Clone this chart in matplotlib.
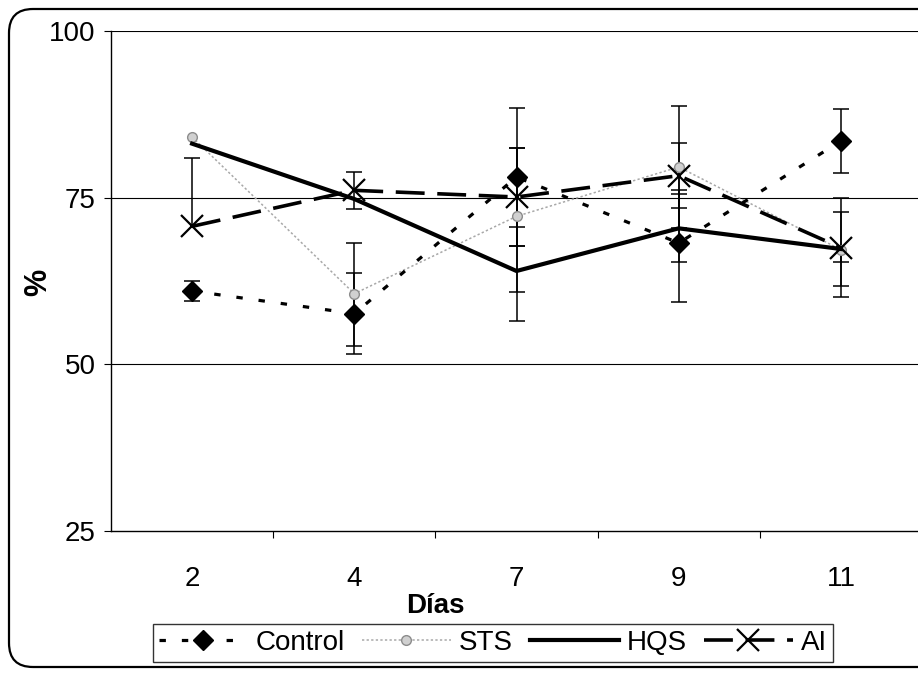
import matplotlib
matplotlib.use("Agg")
import matplotlib.pyplot as plt
from matplotlib.patches import FancyBboxPatch
from matplotlib.lines import Line2D
import numpy as np

plt.rcParams["font.family"] = ["Liberation Sans", "DejaVu Sans"]

# Sampling days (categorical axis)
dias = ["2", "4", "7", "9", "11"]

# Series means (%)
control = [61.0, 57.6, 78.1, 68.2, 83.5]
sts = [84.1, 60.6, 72.2, 79.6, 67.2]
hqs = [83.1, 74.8, 64.0, 70.4, 67.3]
ai = [70.7, 76.1, 75.1, 78.3, 67.5]

# Error bars: (lower, upper); 0 means no bar drawn
control_err_lo = [1.5, 6.1, 10.3, 8.9, 4.8]
control_err_hi = [1.5, 6.1, 10.4, 8.0, 4.8]
sts_err_lo = [0.0, 7.8, 11.4, 9.2, 1.8]
sts_err_hi = [0.0, 7.6, 10.3, 9.2, 0.0]
hqs_err_lo = [0.0, 0.0, 7.5, 5.1, 5.5]
hqs_err_hi = [0.0, 0.0, 6.6, 5.1, 5.5]
ai_err_lo = [0.0, 2.8, 7.4, 4.9, 7.4]
ai_err_hi = [10.3, 2.8, 7.4, 4.9, 7.4]

yticks = [25, 50, 75, 100]

W, H = 918, 675
FS = 20
fig = plt.figure(figsize=(W / 100, H / 100), dpi=100)

# Rounded outer frame of the chart
frame = FancyBboxPatch((9, 8), 940, 658, boxstyle="round,pad=0,rounding_size=24",
                       transform=None, fill=False, edgecolor="black", linewidth=1.6,
                       figure=fig)
fig.patches.append(frame)

ax = fig.add_axes([111 / W, 1 - 531 / H, (922 - 111) / W, 500 / H])
x = np.arange(len(dias))


def draw_errors(vals, lo, hi):
    """Draw one-sided or two-sided error bars, skipping zero-length sides."""
    vals = np.asarray(vals, float)
    lo = np.asarray(lo, float)
    hi = np.asarray(hi, float)
    for i in range(len(vals)):
        if lo[i] == 0 and hi[i] == 0:
            continue
        y0, y1 = vals[i] - lo[i], vals[i] + hi[i]
        ax.plot([x[i], x[i]], [y0, y1], color="black", lw=1.1, zorder=2,
                solid_capstyle="butt")
        for yc, size in ((y0, lo[i]), (y1, hi[i])):
            if size > 0:
                ax.plot([x[i]], [yc], marker="_", markersize=11, mew=1.1,
                        color="black", zorder=2)


for vals, lo, hi in ((control, control_err_lo, control_err_hi),
                     (sts, sts_err_lo, sts_err_hi),
                     (hqs, hqs_err_lo, hqs_err_hi),
                     (ai, ai_err_lo, ai_err_hi)):
    draw_errors(vals, lo, hi)

style_control = dict(color="black", linewidth=2.3, dashes=(2.0, 5.0), marker="D",
                     markersize=10.5, markerfacecolor="black", markeredgecolor="black")
style_sts = dict(color="#a8a8a8", linewidth=1.1, dashes=(1.5, 1.5), marker="o",
                 markersize=7, markerfacecolor="#d0d0d0", markeredgecolor="#8c8c8c",
                 markeredgewidth=1.0)
style_hqs = dict(color="black", linewidth=3.0, linestyle="-")
style_ai = dict(color="black", linewidth=2.6, dashes=(8, 3.5), marker="x",
                markersize=16, markeredgewidth=1.6)

ax.plot(x, sts, zorder=3, **style_sts)
ax.plot(x, hqs, zorder=3, **style_hqs)
ax.plot(x, control, zorder=4, **style_control)
ax.plot(x, ai, zorder=4, **style_ai)

ax.set_xlim(-0.5, len(dias) - 0.5)
ax.set_ylim(25, 100)
ax.set_yticks(yticks)
ax.set_yticklabels([str(v) for v in yticks], fontsize=FS)
ax.set_xticks(x)
ax.set_xticklabels(dias, fontsize=FS)
ax.set_xticks(np.arange(0.5, len(dias) - 0.5, 1.0), minor=True)
ax.tick_params(axis="x", which="major", length=0, pad=25)
ax.tick_params(axis="x", which="minor", length=5, width=0.8, direction="out")
ax.tick_params(axis="y", which="major", length=5, width=0.8, direction="out", pad=6)

for v in (50, 75, 100):
    ax.axhline(v, color="black", linewidth=0.8, zorder=1)

for side in ("top", "right"):
    ax.spines[side].set_visible(False)
for side in ("left", "bottom"):
    ax.spines[side].set_linewidth(1.0)

fig.text(435 / W, 1 - 606 / H, "Días", fontsize=FS, fontweight="bold",
         ha="center", va="center")
fig.text(38 / W, 1 - 282 / H, "%", fontsize=FS + 2, fontweight="bold",
         rotation=90, ha="center", va="center")

handles = [Line2D([], [], **style_control), Line2D([], [], **style_sts),
           Line2D([], [], **style_hqs), Line2D([], [], **style_ai)]
labels = ["Control", "STS", "HQS", "AI"]
leg = fig.legend(handles, labels, loc="center", bbox_to_anchor=(493 / W, 1 - 643 / H),
                 ncol=4, fontsize=FS, frameon=True, fancybox=False, edgecolor="black",
                 handlelength=3.2, columnspacing=0.6, handletextpad=0.3,
                 borderpad=0.2, borderaxespad=0)
leg.get_frame().set_linewidth(1.0)

fig.savefig("out.png", dpi=100)
